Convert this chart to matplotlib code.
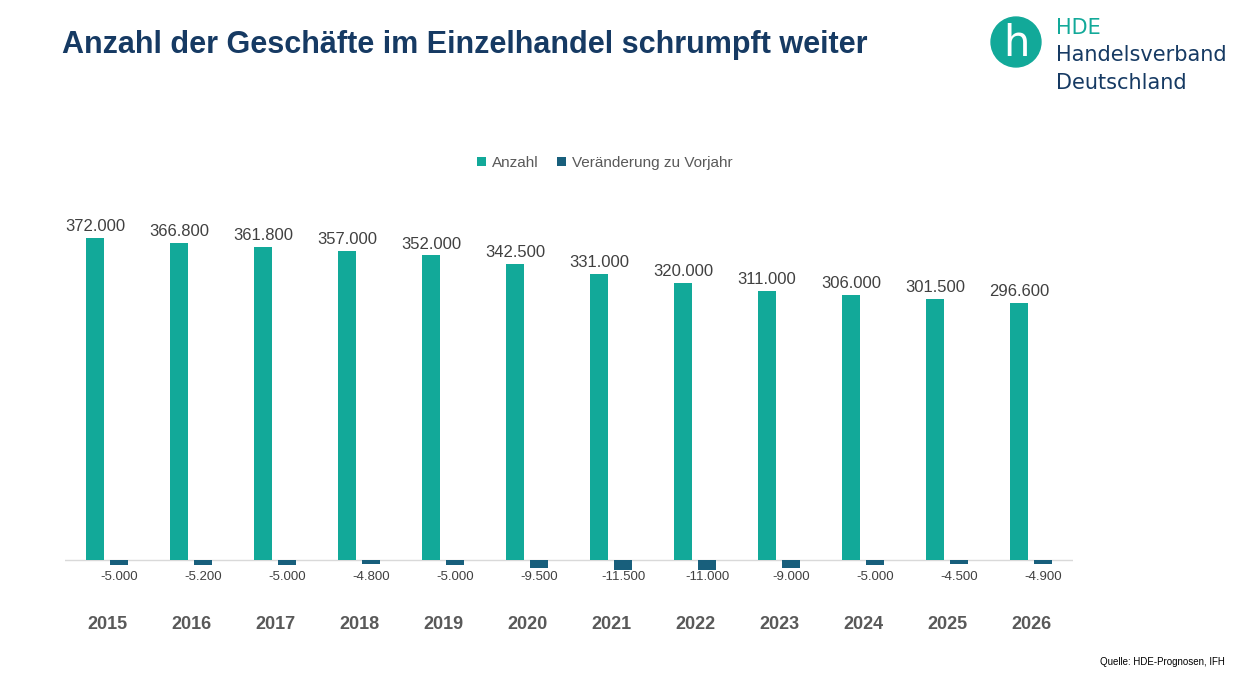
import numpy as np
import matplotlib.pyplot as plt
from matplotlib.patches import Circle

plt.rcParams['font.family'] = ['Liberation Sans', 'DejaVu Sans']

years = ['2015', '2016', '2017', '2018', '2019', '2020', '2021', '2022', '2023', '2024', '2025', '2026']
anzahl = [372000, 366800, 361800, 357000, 352000, 342500, 331000, 320000, 311000, 306000, 301500, 296600]
change = [-5000, -5200, -5000, -4800, -5000, -9500, -11500, -11000, -9000, -5000, -4500, -4900]

teal = '#12a999'
dark = '#185f7c'
navy = '#163a63'

def fmt(v):
    return f'{v:,}'.replace(',', '.')

fig = plt.figure(figsize=(12.6, 6.8), dpi=100)
ax = fig.add_axes([0.0516, 0.132, 0.8, 0.5735])
x = np.arange(len(years))
off, w = 0.143, 0.21
b1 = ax.bar(x - off, anzahl, w, color=teal, label='Anzahl')
b2 = ax.bar(x + off, change, w, color=dark, label='Veränderung zu Vorjahr')
ax.set_xlim(-0.5, len(years) - 0.5)
ax.set_ylim(-34650, 415700)
ax.axhline(0, color='#d9d9d9', lw=1, zorder=0)
for s in ax.spines.values():
    s.set_visible(False)
ax.set_yticks([])
ax.set_xticks([])
for i in range(len(years)):
    ax.text(x[i] - off, anzahl[i] + 4500, fmt(anzahl[i]), ha='center', va='bottom',
            fontsize=12, color='#404040')
    ax.text(x[i] + off, -12500, fmt(change[i]), ha='center', va='top',
            fontsize=9.5, color='#404040')
    ax.text(x[i], -74500, years[i], ha='center', va='center', fontsize=13,
            fontweight='bold', color='#595959', clip_on=False)

fig.legend(handles=[b1, b2], loc='center', bbox_to_anchor=(605 / 1260, 1 - 163 / 680),
           ncol=2, frameon=False, fontsize=11, handlelength=0.6, handleheight=0.6,
           columnspacing=1.2, handletextpad=0.4, labelcolor='#595959')

fig.text(62 / 1260, 1 - 45 / 680, 'Anzahl der Geschäfte im Einzelhandel schrumpft weiter',
         fontsize=22, fontweight='bold', color=navy, va='center', ha='left')
fig.text(1225 / 1260, 1 - 662 / 680, 'Quelle: HDE-Prognosen, IFH', fontsize=7,
         ha='right', va='center', color='black')

# logo
lax = fig.add_axes([990 / 1260, 1 - 68 / 680, 52 / 1260, 52 / 680])
lax.set_xlim(0, 1)
lax.set_ylim(0, 1)
lax.set_aspect('equal')
lax.axis('off')
lax.add_patch(Circle((0.5, 0.5), 0.48, color=teal))
lax.text(0.5, 0.47, 'h', ha='center', va='center', fontsize=30, color='white',
         family='DejaVu Sans')
for txt, yy, col in [('HDE', 28, teal), ('Handelsverband', 55, navy), ('Deutschland', 83, navy)]:
    fig.text(1056 / 1260, 1 - yy / 680, txt, fontsize=15, color=col, va='center',
             family='DejaVu Sans')

fig.savefig('out.png', dpi=100)
